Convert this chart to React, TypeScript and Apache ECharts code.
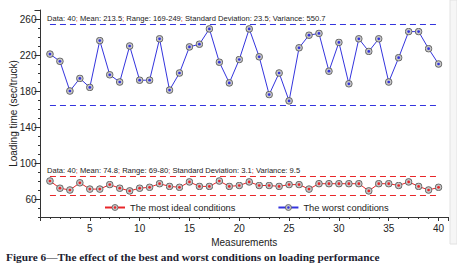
import React, { useEffect, useRef } from "react";
import * as echarts from "echarts";

const measurements = [1, 2, 3, 4, 5, 6, 7, 8, 9, 10, 11, 12, 13, 14, 15, 16, 17, 18, 19, 20, 21, 22, 23, 24, 25, 26, 27, 28, 29, 30, 31, 32, 33, 34, 35, 36, 37, 38, 39, 40];
const worstTimes = [221, 213, 180, 194, 184, 236, 198, 190, 230, 192, 192, 238, 181, 200, 229, 232, 249, 212, 189, 215, 249, 218, 176, 200, 169, 228, 242, 244, 202, 234, 188, 238, 224, 238, 190, 217, 246, 246, 227, 210];
const bestTimes = [80, 72, 70, 78, 71, 71, 76, 72, 69, 72, 73, 77, 74, 73, 79, 74, 74, 80, 74, 75, 79, 75, 75, 74, 76, 76, 71, 77, 77, 77, 77, 77, 69, 77, 77, 75, 79, 74, 70, 73];
const worstLimits = [254.5, 164.5];
const bestLimits = [85, 64];
const yTickLabels = [60, 100, 140, 180, 220, 260];
const xTickLabels = [5, 10, 15, 20, 25, 30, 35, 40];
const worstStats = ["Data: 40", "Mean: 213.5", "Range: 169-249", "Standard Deviation: 23.5", "Variance: 550.7"];
const bestStats = ["Data: 40", "Mean: 74.8", "Range: 69-80", "Standard Deviation: 3.1", "Variance: 9.5"];
const seriesNames = ["The most ideal conditions", "The worst conditions"];
const xName = "Measurements";
const yName = "Loading time (sec/truck)";
const caption = "Figure 6\u2014The effect of the best and worst conditions on loading performance";

const RED = "#e8262a";
const BLUE = "#3434de";
const FONT = "'Liberation Sans', Arial, sans-serif";

// layout constants
const Y_MIN = 40;
const Y_MAX = 270;
const GRID_TOP = 10;
const GRID_BOTTOM = 52;
const CHART_H = 269;

function markerSymbol(dot: string) {
  const svg = `<svg xmlns='http://www.w3.org/2000/svg' width='20' height='20' viewBox='0 0 20 20'><circle cx='10' cy='10' r='8.4' fill='#c6c6c6' stroke='#4e4e4e' stroke-width='2'/><circle cx='10' cy='10' r='3.4' fill='${dot}'/></svg>`;
  return "image://data:image/svg+xml;charset=utf-8," + encodeURIComponent(svg);
}

function statsRich(stats: string[]) {
  return stats.map((s) => `{a|${s}}`).join("{b|;} ");
}

export default function App() {
  const ref = useRef<HTMLDivElement>(null);
  useEffect(() => {
    document.body.style.margin = "0";
    const chart = echarts.init(ref.current!, null, { renderer: "svg" });
    const plotH = CHART_H - GRID_TOP - GRID_BOTTOM;
    const pxPerUnit = plotH / (Y_MAX - Y_MIN);
    // second grid only carries the major tick labels, starting at the first labelled tick
    const labelGridBottom = GRID_BOTTOM + (yTickLabels[0] - Y_MIN) * pxPerUnit;

    const limitLine = (vals: number[], color: string) => ({
      silent: true,
      symbol: ["none", "none"],
      label: { show: false },
      lineStyle: { type: [6, 4], color, width: 1 },
      data: vals.map((v) => [
        { coord: [measurements[0], v] },
        { coord: [measurements[measurements.length - 1], v] },
      ]),
    });
    const makeSeries = (name: string, vals: number[], color: string, limits: number[]) => ({
      name,
      type: "line",
      xAxisIndex: 0,
      yAxisIndex: 0,
      data: measurements.map((m, i) => [m, vals[i]]),
      symbol: markerSymbol(color),
      symbolSize: 8,
      showSymbol: true,
      lineStyle: { color, width: 1 },
      itemStyle: { color },
      markLine: limitLine(limits, color),
    });
    const textStyleBase = { fontFamily: FONT, fontSize: 10, color: "#222" };
    chart.setOption({
      animation: false,
      backgroundColor: "#fff",
      grid: [
        { left: 38.5, right: 8.5, top: GRID_TOP, bottom: GRID_BOTTOM, containLabel: false },
        { left: 38.5, right: 8.5, top: GRID_TOP, bottom: labelGridBottom, containLabel: false },
      ],
      legend: {
        data: seriesNames,
        left: 99,
        top: 198,
        itemWidth: 20,
        itemHeight: 9,
        itemGap: 42,
        textStyle: { fontFamily: FONT, fontSize: 9.3, color: "#222" },
      },
      xAxis: [
        {
          type: "value",
          gridIndex: 0,
          min: 0,
          max: 41,
          interval: 5,
          name: xName,
          nameLocation: "middle",
          nameGap: 16,
          nameTextStyle: { ...textStyleBase, fontSize: 10 },
          axisLine: { show: true, lineStyle: { color: "#333", width: 1 } },
          axisTick: { show: true, length: 4, lineStyle: { color: "#333" } },
          minorTick: { show: true, splitNumber: 5, length: 2, lineStyle: { color: "#333" } },
          splitLine: { show: false },
          axisLabel: {
            ...textStyleBase,
            margin: 6,
            formatter: (v: number) => (xTickLabels.includes(v) ? String(v) : ""),
          },
        },
        {
          type: "value",
          gridIndex: 1,
          min: 0,
          max: 41,
          show: false,
        },
      ],
      yAxis: [
        {
          type: "value",
          gridIndex: 0,
          min: Y_MIN,
          max: Y_MAX,
          interval: 10,
          name: yName,
          nameLocation: "middle",
          nameGap: 22,
          nameTextStyle: { ...textStyleBase, fontSize: 10 },
          axisLine: { show: true, lineStyle: { color: "#333", width: 1 } },
          axisTick: { show: true, length: 2, lineStyle: { color: "#333" } },
          axisLabel: { show: false },
          splitLine: { show: false },
        },
        {
          type: "value",
          gridIndex: 1,
          min: yTickLabels[0],
          max: Y_MAX,
          interval: yTickLabels[1] - yTickLabels[0],
          axisLine: { show: false },
          axisTick: { show: true, length: 4, lineStyle: { color: "#333" } },
          splitLine: { show: false },
          axisLabel: {
            ...textStyleBase,
            margin: 2,
            formatter: (v: number) => (yTickLabels.includes(v) ? String(v) : ""),
          },
        },
      ],
      series: [
        makeSeries(seriesNames[0], bestTimes, RED, bestLimits),
        makeSeries(seriesNames[1], worstTimes, BLUE, worstLimits),
      ],
      graphic: [
        {
          type: "text",
          left: 47,
          top: 14.5,
          style: {
            text: statsRich(worstStats),
            fontFamily: FONT,
            fontSize: 7.6,
            fill: "#222",
            rich: { a: { fill: "#222", fontFamily: FONT, fontSize: 7.6 }, b: { fill: RED, fontFamily: FONT, fontSize: 7.6 } },
          },
        },
        {
          type: "text",
          left: 47,
          top: 166,
          style: {
            text: statsRich(bestStats),
            fontFamily: FONT,
            fontSize: 7.6,
            fill: "#222",
            rich: { a: { fill: "#222", fontFamily: FONT, fontSize: 7.6 }, b: { fill: RED, fontFamily: FONT, fontSize: 7.6 } },
          },
        },
        {
          type: "text",
          left: 6,
          top: 251,
          style: {
            text: caption,
            fontFamily: "'Liberation Serif', 'DejaVu Serif', serif",
            fontWeight: "bold",
            fontSize: 11.3,
            fill: "#1c1c30",
          },
        },
        {
          type: "rect",
          shape: { x: 450, y: 0, width: 7, height: 244 },
          style: { fill: "#f6f6f6", stroke: "#e2e2e2", lineWidth: 1 },
          silent: true,
        },
      ],
    });
    return () => chart.dispose();
  }, []);
  return <div ref={ref} style={{ position: "absolute", left: 0, top: 0, width: 457, height: 269 }} />;
}
